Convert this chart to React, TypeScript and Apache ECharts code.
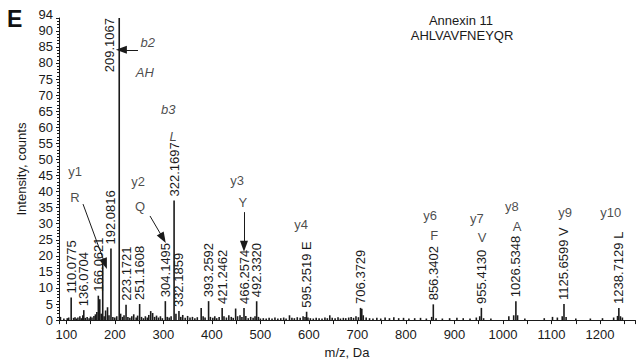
import React, { useEffect, useRef } from "react";
import * as echarts from "echarts";

// Labelled fragment peaks (m/z, intensity, label)
const peakMz = [110.0775, 136.0704, 166.0621, 192.0816, 209.1067, 223.1721, 251.1608, 304.1495, 322.1697, 332.1859, 393.2592, 421.2462, 466.2574, 492.332, 595.2519, 706.3729, 856.3402, 955.413, 1026.5348, 1125.6599, 1238.7129];
const peakInt = [7.0, 3.1, 7.6, 22.3, 94, 4.8, 5.0, 5.9, 37.2, 2.8, 5.9, 3.8, 3.8, 5.9, 2.6, 3.8, 4.9, 3.8, 5.9, 5.0, 3.8];
const peakLabels = ["110.0775", "136.0704", "166.0621", "192.0816", "209.1067", "223.1721", "251.1608", "304.1495", "322.1697", "332.1859", "393.2592", "421.2462", "466.2574", "492.3320", "595.2519 E", "706.3729", "856.3402", "955.4130", "1026.5348", "1125.6599 V", "1238.7129 L"];

// Unlabelled minor peaks [m/z, intensity]
const noisePeaks: [number, number][] = [
  [88, 1.0], [95, 0.5], [102, 0.6], [105, 0.8], [115, 0.7], [118, 0.9], [121, 0.5], [124, 0.8], [128, 1.2], [131, 0.6],
  [134, 1.5], [139, 0.7], [143, 1.0], [147, 0.6], [150, 1.1], [153, 0.8], [157, 1.3], [160, 1.8], [163, 2.5], [169, 6.5],
  [172, 2.0], [175.1, 18.0], [178, 1.2], [181, 3.0], [185, 4.0], [188, 1.5], [196, 1.0], [200, 0.8], [204, 1.2], [212, 2.0],
  [216, 1.0], [219, 1.5], [227, 1.0], [231, 0.7], [235, 1.2], [239, 1.8], [244, 0.8], [247, 1.4], [255, 1.0], [259, 0.6],
  [263, 1.2], [267, 0.8], [270, 1.6], [274, 2.8], [278, 2.2], [282, 1.0], [286, 1.4], [290, 0.8], [294, 1.2], [298, 0.6],
  [308, 1.0], [312, 0.8], [316, 1.2], [326, 2.0], [336, 1.0], [340, 1.6], [345, 0.7], [350, 1.3], [355, 0.8], [360, 1.0],
  [365, 0.6], [370, 0.9], [378, 3.8], [382, 1.2], [386, 0.8], [397, 1.0], [402, 0.7], [406, 1.2], [410, 0.6], [415, 1.0],
  [425, 1.2], [430, 0.8], [435, 1.5], [440, 1.0], [444, 0.7], [449, 3.6], [453, 1.2], [458, 1.5], [462, 1.0], [470, 1.3],
  [475, 0.6], [480, 1.0], [485, 0.7], [489, 1.2], [496, 1.0], [500, 0.5], [506, 0.6], [512, 0.5], [518, 0.7], [524, 0.5],
  [530, 0.8], [536, 0.5], [542, 0.6], [548, 0.8], [553, 0.5], [560, 1.5], [565, 0.7], [570, 0.6], [576, 0.9], [582, 0.7],
  [588, 1.2], [592, 1.0], [598, 0.8], [603, 0.6], [609, 0.5], [615, 0.7], [621, 0.6], [627, 0.5], [633, 0.8], [638, 0.6],
  [643, 1.5], [648, 0.7], [654, 0.6], [660, 0.9], [665, 0.5], [671, 0.7], [676, 0.6], [682, 0.8], [687, 1.0], [692, 0.7],
  [697, 1.2], [702, 0.9], [709, 3.5], [712, 1.5], [718, 0.8], [725, 0.6], [732, 0.5], [740, 0.7], [748, 0.5], [757, 0.8],
  [766, 0.6], [775, 0.9], [785, 0.6], [795, 0.7], [806, 0.5], [818, 0.6], [830, 0.7], [842, 0.5], [853, 1.0], [862, 0.6],
  [875, 0.5], [890, 0.6], [905, 0.7], [918, 0.6], [932, 0.5], [945, 0.8], [952, 1.2], [960, 0.6], [975, 0.5], [1012, 1.2],
  [1022, 1.5], [1030, 1.5], [1045, 0.5], [1085, 0.6], [1102, 1.0], [1112, 0.8], [1122, 1.2], [1130, 1.0], [1150, 0.5],
  [1180, 0.5], [1205, 0.6], [1228, 0.8], [1236, 1.3], [1242, 1.2], [1246, 0.8],
];

// Ion annotations (upright)
const ionText = ["y1", "R", "y2", "Q", "y3", "Y", "y4", "y6", "F", "y7", "V", "y8", "A", "y9", "y10"];
const ionMz = [118, 118, 248, 252, 452, 464, 584, 850, 858, 946, 957, 1018, 1029, 1128, 1222];
const ionVal = [46.3, 38.0, 43.2, 35.5, 43.5, 36.7, 29.6, 32.4, 26.2, 31.5, 25.6, 35.5, 29.0, 33.6, 33.6];

// b-ion annotations (italic)
const bText = ["b2", "AH", "b3", "L"];
const bMz = [268, 262, 310, 320];
const bVal = [86.3, 77.0, 65.6, 57.2];

// Arrows [fromMz, fromVal, toMz, toVal]
const arrows: [number, number, number, number][] = [
  [134.5, 36.1, 179.8, 17.5],
  [272.5, 32.4, 299.3, 25.5],
  [466.2, 33.6, 466.2, 23.0],
  [247.8, 84.1, 213.5, 84.1],
];

const title1 = "Annexin 11";
const title2 = "AHLVAVFNEYQR";
const panelLetter = "E";

const FONT = "'Liberation Sans', Arial, Helvetica, sans-serif";
const INK = "#1a1a1a";

export default function App() {
  const ref = useRef<HTMLDivElement>(null);
  useEffect(() => {
    document.body.style.margin = "0";
    if (!ref.current) return;
    const chart = echarts.init(ref.current, undefined, { renderer: "svg" });

    const barData: any[] = [];
    noisePeaks.forEach((p) => barData.push({ value: [p[0], p[1]] }));
    peakMz.forEach((mz, i) => {
      const isTop = peakInt[i] >= 94;
      barData.push({
        value: [mz, peakInt[i]],
        label: isTop
          ? {
              show: true,
              formatter: peakLabels[i],
              position: "insideTop",
              distance: 0,
              rotate: 90,
              align: "right",
              verticalAlign: "middle",
              offset: [0, -10],
            }
          : {
              show: true,
              formatter: peakLabels[i],
              position: "top",
              distance: 4,
              rotate: 90,
              align: "left",
              verticalAlign: "middle",
            },
      });
    });
    barData.sort((a, b) => a.value[0] - b.value[0]);

    const ionData = ionText.map((t, i) => ({ name: t, value: [ionMz[i], ionVal[i]] }));
    const bData = bText.map((t, i) => ({ name: t, value: [bMz[i], bVal[i]] }));

    chart.setOption({
      animation: false,
      textStyle: { fontFamily: FONT },
      grid: { left: 59, right: 3, top: 18, bottom: 42, containLabel: false },
      xAxis: {
        type: "value",
        min: 85,
        max: 1272,
        splitNumber: 12,
        name: "m/z, Da",
        nameLocation: "middle",
        nameGap: 25,
        nameTextStyle: { fontSize: 13, color: INK, fontFamily: FONT },
        axisLine: { show: true, lineStyle: { color: INK, width: 1 } },
        axisTick: { show: true, length: 4, lineStyle: { color: INK } },
        minorTick: { show: true, splitNumber: 2, length: 4, lineStyle: { color: INK } },
        axisLabel: {
          fontSize: 13,
          color: INK,
          margin: 8,
          fontFamily: FONT,
          formatter: (v: number) => (v % 100 === 0 ? String(v) : ""),
        },
        splitLine: { show: false },
      },
      yAxis: {
        type: "value",
        min: 0,
        max: 94,
        interval: 5,
        name: "Intensity, counts",
        nameLocation: "middle",
        nameGap: 30,
        nameRotate: 90,
        nameTextStyle: { fontSize: 13, color: INK, fontFamily: FONT },
        axisLine: { show: true, lineStyle: { color: INK, width: 1 } },
        axisTick: { show: true, length: 3, lineStyle: { color: INK } },
        minorTick: { show: true, splitNumber: 5, length: 2, lineStyle: { color: INK } },
        axisLabel: {
          fontSize: 13,
          color: INK,
          margin: 6,
          fontFamily: FONT,
          formatter: (v: number) => (v === 94 ? "{top|94}" : String(v)),
          rich: { top: { fontSize: 13, color: INK, fontFamily: FONT, padding: [0, 0, 8, 0] } },
        },
        splitLine: { show: false },
      },
      series: [
        {
          type: "bar",
          barWidth: 1.6,
          data: barData,
          itemStyle: { color: INK },
          label: { show: false, fontSize: 13, color: INK, fontFamily: FONT },
          silent: true,
        },
        {
          type: "scatter",
          symbolSize: 1,
          itemStyle: { color: "rgba(0,0,0,0)" },
          data: ionData,
          label: { show: true, position: "inside", formatter: "{b}", fontSize: 13, color: INK, fontFamily: FONT },
          silent: true,
          markLine: {
            silent: true,
            symbol: ["none", "triangle"],
            symbolSize: [8, 11],
            label: { show: false },
            lineStyle: { color: INK, width: 1, type: "solid" },
            emphasis: { disabled: true },
            data: arrows.map((a) => [{ coord: [a[0], a[1]] }, { coord: [a[2], a[3]] }]),
          },
        },
        {
          type: "scatter",
          symbolSize: 1,
          itemStyle: { color: "rgba(0,0,0,0)" },
          data: bData,
          label: {
            show: true,
            position: "inside",
            formatter: "{b}",
            fontSize: 13,
            fontStyle: "italic",
            color: INK,
            fontFamily: FONT,
          },
          silent: true,
        },
      ],
      graphic: [
        {
          type: "text",
          x: 7,
          y: 7,
          style: { text: panelLetter, font: `bold 23px ${FONT}`, fill: "#111" },
        },
        {
          type: "text",
          x: 461,
          y: 20,
          style: { text: title1, font: `13px ${FONT}`, fill: INK, textAlign: "center", textVerticalAlign: "middle" },
        },
        {
          type: "text",
          x: 462,
          y: 35,
          style: { text: title2, font: `13px ${FONT}`, fill: INK, textAlign: "center", textVerticalAlign: "middle" },
        },
      ],
    });
    return () => chart.dispose();
  }, []);
  return <div ref={ref} style={{ width: 638, height: 364 }} />;
}
